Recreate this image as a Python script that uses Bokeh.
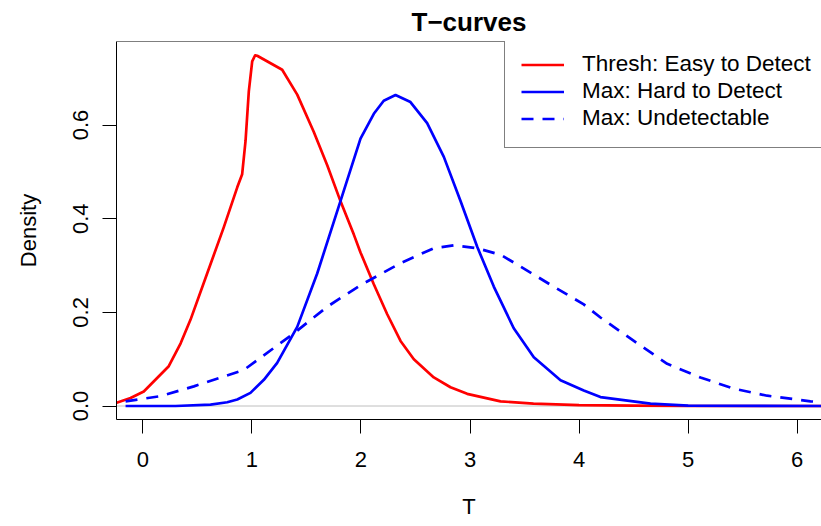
from bokeh.plotting import figure
from bokeh.models import (Range1d, FixedTicker, PrintfTickFormatter, Span,
                          Legend, LegendItem)
from bokeh.embed import file_html
from bokeh.resources import INLINE

FONT = "Liberation Sans"

title_text = "T\u2212curves"
x_label = "T"
y_label = "Density"
series_labels = ["Thresh: Easy to Detect", "Max: Hard to Detect", "Max: Undetectable"]
x_ticks = [0, 1, 2, 3, 4, 5, 6]
y_ticks = [0.0, 0.2, 0.4, 0.6]

# Thresh: Easy to Detect (red)
red_x = [-0.24, -0.112, 0.009, 0.238, 0.347, 0.437, 0.590, 0.743, 0.866, 0.911, 0.942,
         0.972, 1.003, 1.03, 1.049, 1.278, 1.416, 1.568, 1.691, 1.813, 1.935, 1.996,
         2.118, 2.241, 2.363, 2.485, 2.668, 2.821, 2.974, 3.280, 3.582, 4.0, 4.5, 5.0,
         6.25]
red_y = [0.007, 0.017, 0.031, 0.085, 0.134, 0.184, 0.283, 0.382, 0.467, 0.495, 0.566,
         0.672, 0.736, 0.749, 0.748, 0.718, 0.665, 0.585, 0.514, 0.437, 0.366, 0.328,
         0.260, 0.196, 0.139, 0.100, 0.061, 0.040, 0.026, 0.010, 0.005, 0.002, 0.001, 0.0,
         0.0]

# Max: Hard to Detect (blue solid)
blue_x = [-0.158, 0.3, 0.621, 0.774, 0.866, 0.987, 1.11, 1.232, 1.416, 1.599, 1.813,
          1.996, 2.118, 2.209, 2.317, 2.454, 2.607, 2.760, 2.913, 3.066, 3.218, 3.401,
          3.585, 3.830, 4.043, 4.196, 4.655, 5.0, 6.25]
blue_y = [0.0, 0.0, 0.003, 0.008, 0.014, 0.028, 0.056, 0.092, 0.169, 0.283, 0.438,
          0.571, 0.624, 0.652, 0.664, 0.649, 0.604, 0.532, 0.438, 0.340, 0.255, 0.166,
          0.104, 0.055, 0.033, 0.019, 0.005, 0.001, 0.0]

# Max: Undetectable (blue dashed)
dash_x = [-0.158, 0.162, 0.468, 0.926, 1.384, 1.691, 1.996, 2.363, 2.668, 2.851, 3.066,
          3.280, 3.433, 3.738, 4.043, 4.196, 4.502, 4.808, 5.113, 5.419, 5.725, 6.122, 6.25]
dash_y = [0.010, 0.021, 0.042, 0.077, 0.155, 0.212, 0.258, 0.305, 0.337, 0.343, 0.337,
          0.323, 0.302, 0.259, 0.217, 0.189, 0.139, 0.090, 0.061, 0.037, 0.022, 0.010, 0.008]

X0, X1 = -0.2411, 6.2226
Y0, Y1 = -0.0288, 0.7784

p = figure(width=821, height=526, output_backend="svg", toolbar_location=None,
           x_range=Range1d(X0, X1), y_range=Range1d(Y0, Y1),
           min_border_left=116, min_border_top=39, min_border_bottom=107,
           min_border_right=0)
p.outline_line_color = None
p.xgrid.visible = False
p.ygrid.visible = False
p.background_fill_color = "white"
p.border_fill_color = "white"

# title centred over the plot box
p.title.text = title_text
p.title.align = "center"
p.title.text_font = FONT
p.title.text_font_size = "26px"
p.title.text_font_style = "bold"
p.title.text_color = "black"
p.title.standoff = 9

# zero reference line
p.add_layout(Span(location=0, dimension="width", line_color="#BEBEBE",
                  line_width=1, level="underlay"))
# top border of the box
p.add_layout(Span(location=Y1, dimension="width", line_color="black", line_width=1))

r1 = p.line(red_x, red_y, line_color="#FF0000", line_width=2.7, line_join="round")
r2 = p.line(blue_x, blue_y, line_color="#0000FF", line_width=2.7, line_join="round")
r3 = p.line(dash_x, dash_y, line_color="#0000FF", line_width=2.7, line_dash="12 9",
            line_join="round")

for ax in (p.xaxis[0], p.yaxis[0]):
    ax.axis_line_color = "black"
    ax.axis_line_width = 1
    ax.major_tick_line_color = "black"
    ax.major_tick_out = 14
    ax.major_tick_in = 0
    ax.minor_tick_out = 0
    ax.minor_tick_in = 0
    ax.major_label_text_font = FONT
    ax.major_label_text_font_size = "22px"
    ax.major_label_text_color = "black"
    ax.axis_label_text_font = FONT
    ax.axis_label_text_font_size = "22px"
    ax.axis_label_text_font_style = "normal"
    ax.axis_label_text_color = "black"

p.xaxis.ticker = FixedTicker(ticks=x_ticks)
p.xaxis.axis_label = x_label
p.xaxis.major_label_standoff = 18
p.xaxis.axis_label_standoff = 24

p.yaxis.ticker = FixedTicker(ticks=y_ticks)
p.yaxis.formatter = PrintfTickFormatter(format="%.1f")
p.yaxis.major_label_orientation = "vertical"
p.yaxis.axis_label = y_label
p.yaxis.major_label_standoff = 14
p.yaxis.axis_label_standoff = 30

legend = Legend(items=[LegendItem(label=series_labels[0], renderers=[r1]),
                       LegendItem(label=series_labels[1], renderers=[r2]),
                       LegendItem(label=series_labels[2], renderers=[r3])],
                location=(388, 271))
legend.label_text_font = FONT
legend.label_text_font_size = "22.5px"
legend.label_text_color = "black"
legend.glyph_width = 43
legend.glyph_height = 25
legend.label_height = 25
legend.label_standoff = 18
legend.padding = 16
legend.spacing = 1
legend.margin = 0
legend.border_line_color = "black"
legend.border_line_width = 1
legend.background_fill_color = "white"
legend.background_fill_alpha = 1.0
p.add_layout(legend)

open("out.html", "w").write(file_html(p, INLINE))
